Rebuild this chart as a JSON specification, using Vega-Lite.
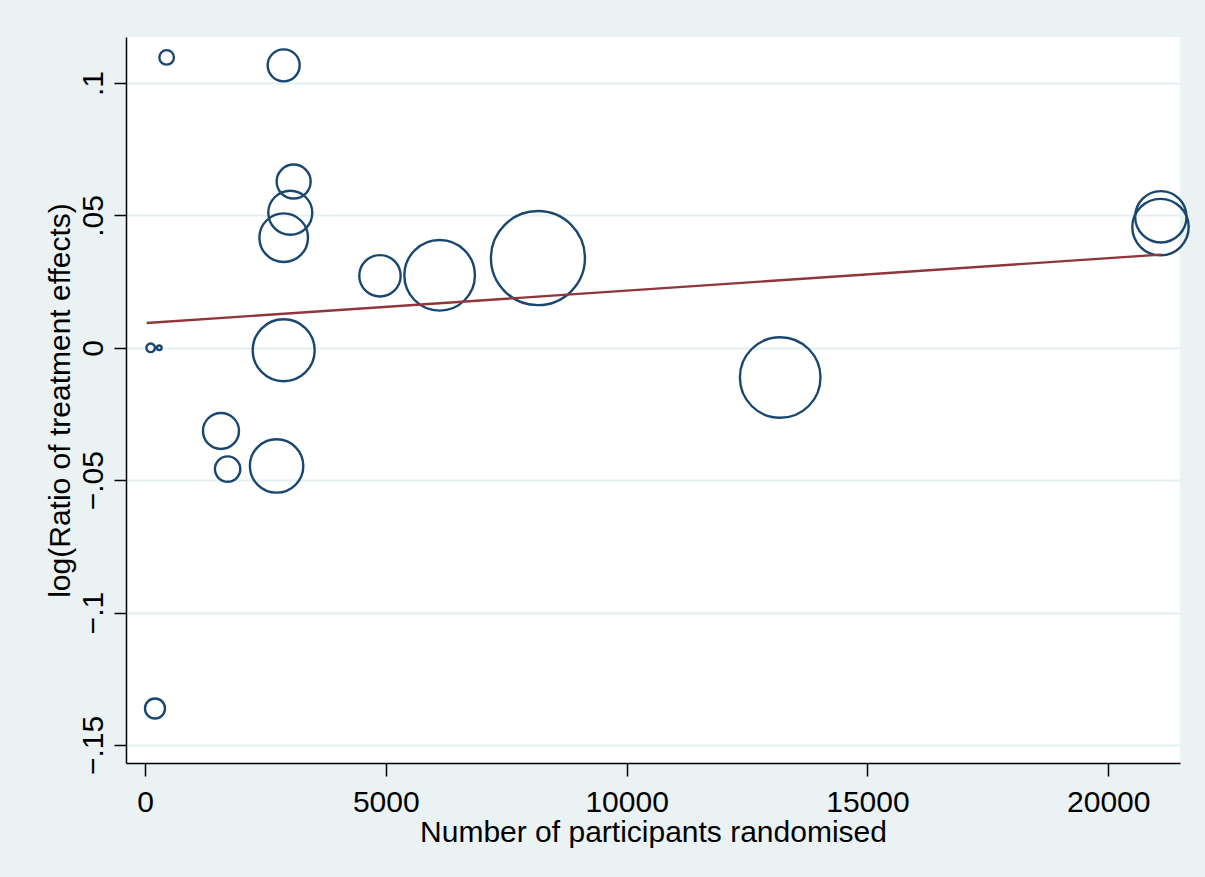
{
  "$schema": "https://vega.github.io/schema/vega-lite/v6.json",
  "width": 1054,
  "height": 726,
  "autosize": {"type": "none"},
  "padding": {"left": 126, "top": 37, "right": 25, "bottom": 114},
  "background": "#eaf2f3",
  "config": {
    "view": {"fill": "white", "stroke": null},
    "font": "Liberation Sans"
  },
  "datasets": {
    "trials": [
      {"n": 450, "logratio": 0.1097, "weight": 0.53},
      {"n": 2880, "logratio": 0.1067, "weight": 2.56},
      {"n": 3087, "logratio": 0.0628, "weight": 2.89},
      {"n": 3017, "logratio": 0.0510, "weight": 4.84},
      {"n": 2880, "logratio": 0.0416, "weight": 5.90},
      {"n": 4879, "logratio": 0.0272, "weight": 4.28},
      {"n": 6118, "logratio": 0.0274, "weight": 12.46},
      {"n": 8159, "logratio": 0.0339, "weight": 22.09},
      {"n": 118, "logratio": 0.0, "weight": 0.185},
      {"n": 297, "logratio": 0.0, "weight": 0.053},
      {"n": 2880, "logratio": -0.0009, "weight": 9.61},
      {"n": 1578, "logratio": -0.0314, "weight": 3.24},
      {"n": 1716, "logratio": -0.0458, "weight": 1.61},
      {"n": 2733, "logratio": -0.0446, "weight": 7.13},
      {"n": 208, "logratio": -0.1362, "weight": 1.0},
      {"n": 13189, "logratio": -0.0112, "weight": 16.24},
      {"n": 21092, "logratio": 0.0495, "weight": 6.60},
      {"n": 21085, "logratio": 0.0456, "weight": 7.95}
    ],
    "fit": [
      {"n": 35, "fitted": 0.0094},
      {"n": 21100, "fitted": 0.0352}
    ]
  },
  "layer": [
    {
      "data": {"name": "trials"},
      "mark": {"type": "point", "shape": "circle", "filled": false, "strokeWidth": 2.4, "color": "#1a476f", "opacity": 1},
      "encoding": {
        "x": {
          "field": "n", "type": "quantitative",
          "title": "Number of participants randomised",
          "scale": {"domain": [-394, 21490], "nice": false, "zero": false},
          "axis": {
            "values": [0, 5000, 10000, 15000, 20000],
            "format": "d",
            "grid": false,
            "labelFontSize": 30, "labelColor": "black", "labelPadding": 11,
            "tickSize": 13, "tickColor": "black", "tickWidth": 1.5,
            "domainColor": "black", "domainWidth": 1.5,
            "titleFontSize": 30, "titleFontWeight": "normal", "titleColor": "black", "titlePadding": 0
          }
        },
        "y": {
          "field": "logratio", "type": "quantitative",
          "title": "log(Ratio of treatment effects)",
          "scale": {"domain": [-0.1568, 0.1174], "nice": false, "zero": false},
          "axis": {
            "values": [-0.15, -0.1, -0.05, 0, 0.05, 0.1],
            "labelExpr": "replace(format(datum.value, '.2~f'), '0.', '.')",
            "labelAngle": -90, "labelAlign": "center", "labelBaseline": "alphabetic",
            "labelFontSize": 30, "labelColor": "black", "labelPadding": 12,
            "tickSize": 12, "tickColor": "black", "tickWidth": 1.5,
            "domainColor": "black", "domainWidth": 1.5,
            "grid": true, "gridColor": "#e6eff1", "gridWidth": 2,
            "titleFontSize": 30, "titleFontWeight": "normal", "titleColor": "black", "titlePadding": 3
          }
        },
        "size": {
          "field": "weight", "type": "quantitative",
          "scale": {"domain": [0, 1], "range": [0, 400], "zero": true},
          "legend": null
        }
      }
    },
    {
      "data": {"name": "fit"},
      "mark": {"type": "line", "color": "#90353b", "strokeWidth": 2.4},
      "encoding": {
        "x": {"field": "n", "type": "quantitative", "title": "Number of participants randomised"},
        "y": {"field": "fitted", "type": "quantitative", "title": "log(Ratio of treatment effects)"}
      }
    }
  ]
}
